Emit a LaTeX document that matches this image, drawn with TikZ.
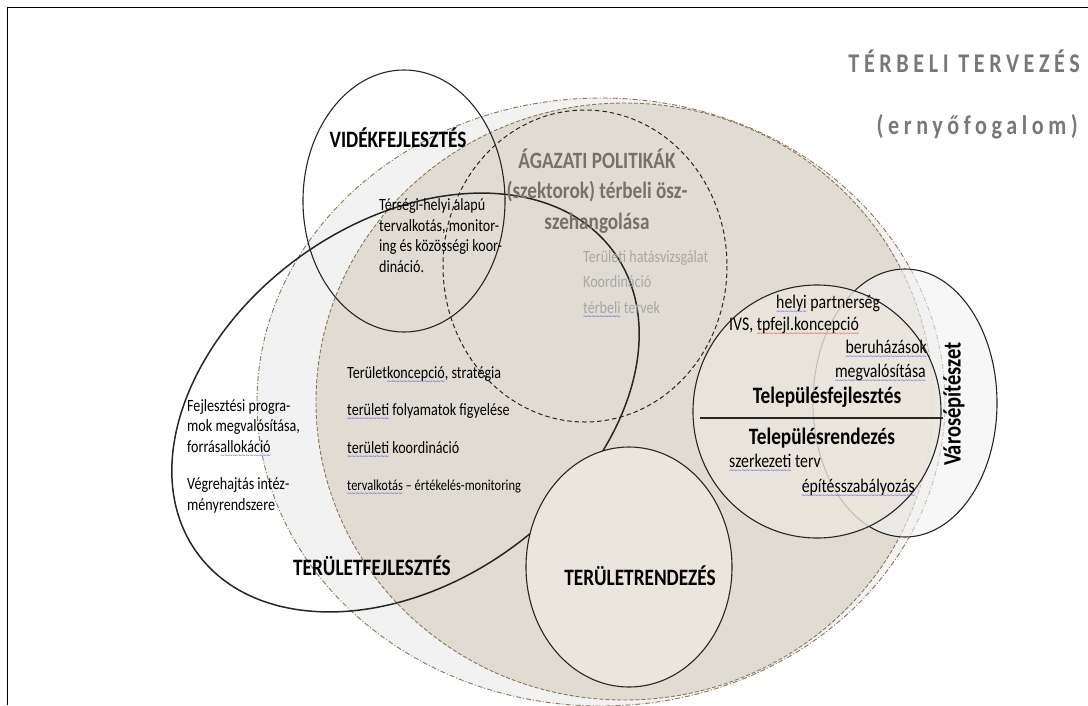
\documentclass[tikz,border=0pt]{standalone}
\usepackage{fontspec}
\setmainfont{Carlito}[FakeStretch=0.82]
\newfontfamily\titlefont{Carlito}[FakeStretch=0.82,LetterSpace=17]
\newfontfamily\wavefont{DejaVu Sans}
\usetikzlibrary{positioning}

\definecolor{outerfill}{RGB}{242,242,242}
\definecolor{tanfill}{RGB}{224,220,211}
\definecolor{creamfill}{RGB}{234,230,221}
\definecolor{brownline}{RGB}{140,118,88}
\definecolor{inkline}{RGB}{38,38,38}
\definecolor{titlegray}{RGB}{120,120,120}
\definecolor{sectorgray}{RGB}{118,113,106}
\definecolor{palegray}{RGB}{168,168,168}
\definecolor{spellblue}{RGB}{50,50,225}
\definecolor{spellred}{RGB}{230,30,30}

% hullamos alahuzas (helyesiras-ellenorzes)
\newcommand\spellwave[2]{\setbox0\hbox{#2}%
  \rlap{\raisebox{-5.2pt}{\color{#1}\wavefont\fontsize{6}{6}\selectfont
    \hbox to \wd0{\xleaders\hbox{\kern-0.5pt\char"7E\kern-0.5pt}\hfill}}}\box0\relax}
\newcommand\bwave[1]{\spellwave{spellblue}{#1}}
\newcommand\rwave[1]{\spellwave{spellred}{#1}}

\tikzset{
  zoneline/.style={draw=inkline, line width=1.1pt},
  body/.style={font=\fontsize{17.2}{20.5}\selectfont, inner sep=0pt, align=left},
  listtxt/.style={font=\fontsize{17.2}{37.5}\selectfont, inner sep=0pt, align=left},
  smalltxt/.style={font=\fontsize{15.2}{18}\selectfont, inner sep=0pt},
  paletxt/.style={font=\fontsize{17.2}{25.5}\selectfont, text=palegray, inner sep=0pt, align=left},
  circtxt/.style={font=\fontsize{19.3}{22}\selectfont, inner sep=0pt},
  zonelabel/.style={font=\bfseries\fontsize{23.5}{27}\selectfont, inner sep=0pt},
  titletxt/.style={font=\titlefont\bfseries\fontsize{27}{30}\selectfont, text=titlegray, inner sep=0pt}
}

\begin{document}
\begin{tikzpicture}[x=1pt, y=-1pt]
  \useasboundingbox (0,0) rectangle (1088,705);
  % keret
  \coordinate (frameBL) at (7,705);
  \coordinate (frameTL) at (7,7);
  \coordinate (frameTR) at (1088,7);
  \draw[line width=1pt] (frameBL) -- (frameTL) -- (frameTR);

  % terbeli tervezes: kulso es belso ellipszis
  \path[fill=outerfill, draw=brownline, line width=0.9pt, dash pattern=on 5pt off 2pt on 1pt off 2pt]
    (601,402) ellipse [x radius=344, y radius=304];
  \path[fill=tanfill, draw=brownline, line width=0.9pt, dash pattern=on 4pt off 2pt]
    (624.5,401.5) ellipse [x radius=308.5, y radius=298.5];
  % agazati politikak
  \draw[inkline, line width=1pt, dash pattern=on 4.5pt off 3pt]
    (585,266) ellipse [x radius=142, y radius=156];
  % videkfejlesztes
  \draw[zoneline] (404,201) ellipse [x radius=101, y radius=131];
  % teruletfejlesztes (ferde)
  \draw[zoneline, line width=1.5pt, rotate around={35.7:(405.5,402.5)}]
    (405.5,402.5) ellipse [x radius=257, y radius=180];
  % teruletrendezes
  \draw[zoneline, fill=creamfill] (629,567) ellipse [x radius=103, y radius=120];
  % varosepiteszet
  \draw[zoneline, fill=outerfill, fill opacity=0.6] (905,403) ellipse [x radius=92, y radius=134];
  % telepulesfejlesztes / -rendezes
  \draw[zoneline, fill=creamfill, fill opacity=0.8] (817,411.5) ellipse [x radius=124, y radius=126.5];
  \coordinate (divL) at (700,418);
  \coordinate (divR) at (943,418);
  \draw[zoneline] (divL) -- (divR);

  % cim
  \node[titletxt, anchor=base east] (title) at (1080,72) {TÉRBELI TERVEZÉS};
  \node[titletxt, anchor=base east] (umbrella) at (1078,134) {(ernyőfogalom)};

  % feliratok (tobbsoros csomopontnal a base az utolso sor)
  \node[zonelabel, anchor=base] (rural) at (398,147) {VIDÉKFEJLESZTÉS};
  \node[zonelabel, anchor=base, text=sectorgray, align=center, font=\bfseries\fontsize{23.4}{30.5}\selectfont]
    (sector) at (597,229) {ÁGAZATI POLITIKÁK\\(szektorok) térbeli ösz-\\szehangolása};
  \node[body, anchor=base west] (local) at (379,272)
    {Térségi-helyi alapú\\tervalkotás, monitor-\\ing és közösségi koor-\\dináció.};
  \node[paletxt, anchor=base west] (impact) at (583,313)
    {Területi hatásvizsgálat\\Koordináció\\\bwave{térbeli} tervek};
  \node[listtxt, anchor=base west] (concept) at (347,453)
    {Terület\bwave{koncepció}, stratégia\\\bwave{területi} folyamatok figyelése\\\bwave{területi} koordináció};
  \node[smalltxt, anchor=base west] (monitor) at (347,490) {\bwave{tervalkotás} – értékelés-monitoring};
  \node[body, anchor=base west] (programs) at (187,452)
    {Fejlesztési progra-\\mok megvalósítása,\\forrás\bwave{allokáció}};
  \node[body, anchor=base west] (institutions) at (187,510) {Végrehajtás intéz-\\ményrendszere};
  \node[zonelabel, anchor=base] (devlabel) at (372,575) {TERÜLETFEJLESZTÉS};
  \node[zonelabel, anchor=base] (planlabel) at (640,585) {TERÜLETRENDEZÉS};

  % telepules kor
  \node[circtxt, anchor=base west] (partner) at (776,308) {\bwave{helyi} partnerség};
  \node[circtxt, anchor=base west] (ivs) at (729,330) {IVS, \rwave{tpfejl.koncepció}};
  \node[circtxt, anchor=base east] (invest) at (927,353) {\bwave{beruházások}};
  \node[circtxt, anchor=base east] (realise) at (926,377) {\bwave{megvalósítása}};
  \node[zonelabel, anchor=base] (settledev) at (827,403) {Településfejlesztés};
  \node[zonelabel, anchor=base] (settleplan) at (822,444) {Településrendezés};
  \node[circtxt, anchor=base west] (structure) at (729,467) {\bwave{szerkezeti} terv};
  \node[circtxt, anchor=base east] (building) at (915,492) {\bwave{építésszabályozás}};
  \node[zonelabel, rotate=90, font=\bfseries\fontsize{25}{30}\selectfont] (urban) at (954,404) {Városépítészet};
\end{tikzpicture}
\end{document}
